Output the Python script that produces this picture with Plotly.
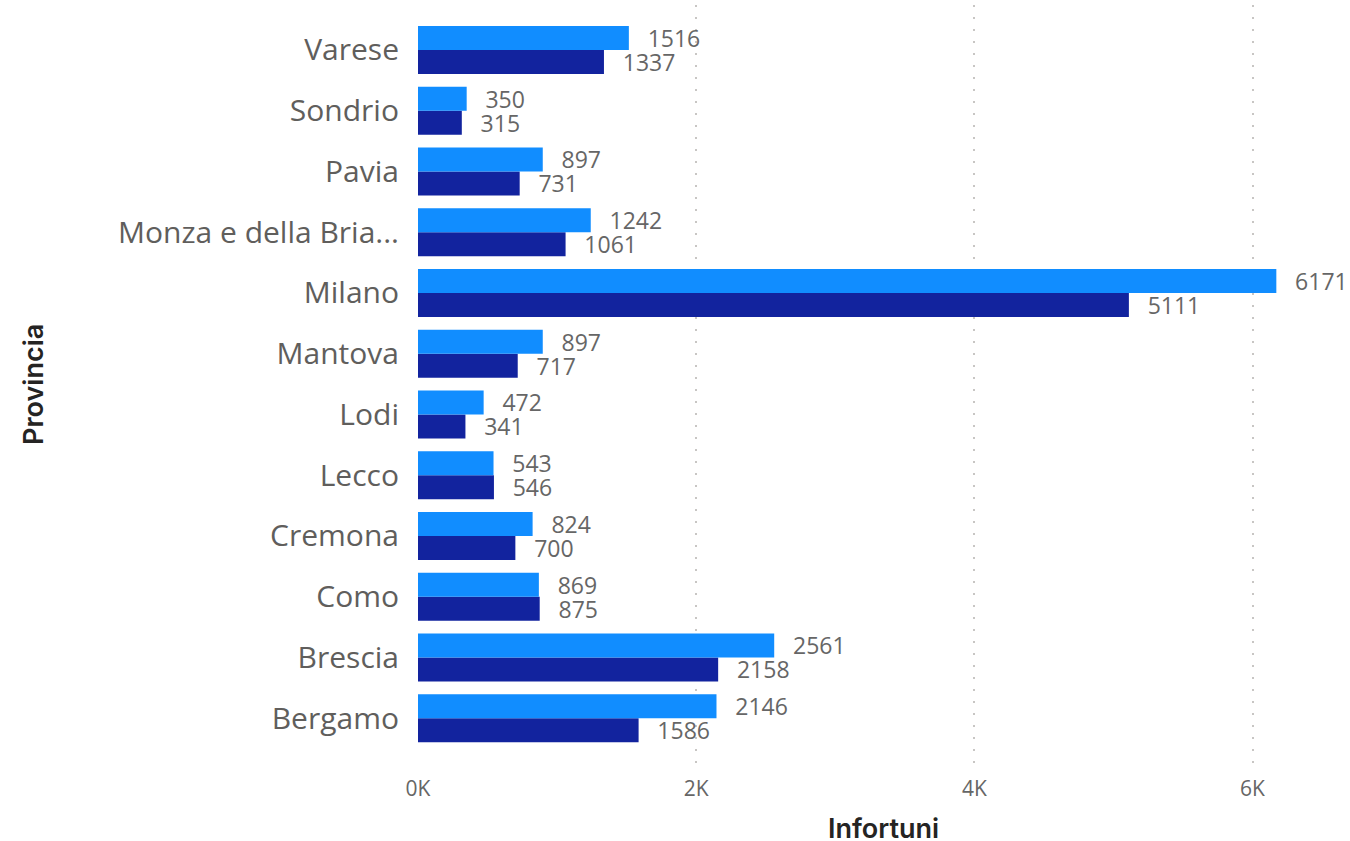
import plotly.graph_objects as go

provinces = ["Bergamo", "Brescia", "Como", "Cremona", "Lecco", "Lodi", "Mantova",
             "Milano", "Monza e della Bria...", "Pavia", "Sondrio", "Varese"]
series_light = [2146, 2561, 869, 824, 543, 472, 897, 6171, 1242, 897, 350, 1516]
series_dark = [1586, 2158, 875, 700, 546, 341, 717, 5111, 1061, 731, 315, 1337]
x_tickvals = [0, 2000, 4000, 6000]
x_ticktext = ["0K", "2K", "4K", "6K"]

BASE = "Segoe UI, Open Sans, sans-serif"
TITLE_FONT = dict(family="Inter, Roboto, DejaVu Sans, sans-serif", size=27,
                  color="#252423", weight=600)
LABEL_FONT = dict(family=BASE, size=23, color="#666666")
PAD = "\u00a0\u00a0\u2009"

fig = go.Figure()
fig.add_trace(go.Bar(
    y=provinces, x=series_dark, orientation="h", name="Serie 2",
    marker=dict(color="#12239E", line=dict(width=0)),
    texttemplate=PAD + "%{x}", textposition="outside", cliponaxis=False,
    constraintext="none", textfont=LABEL_FONT, hoverinfo="x+y",
))
fig.add_trace(go.Bar(
    y=provinces, x=series_light, orientation="h", name="Serie 1",
    marker=dict(color="#118DFF", line=dict(width=0)),
    texttemplate=PAD + "%{x}", textposition="outside", cliponaxis=False,
    constraintext="none", textfont=LABEL_FONT, hoverinfo="x+y",
))

fig.update_layout(
    width=1350, height=841,
    margin=dict(l=418, r=14, t=5, b=76, autoexpand=False),
    paper_bgcolor="white", plot_bgcolor="white",
    barmode="group", bargap=0.21, bargroupgap=0,
    showlegend=False,
    font=dict(family=BASE),
    xaxis=dict(
        range=[0, 6600], tickvals=x_tickvals, ticktext=x_ticktext,
        showgrid=True, gridcolor="#C8C6C4", griddash="2px,10px", gridwidth=2,
        zeroline=False, showline=False,
        ticks="outside", ticklen=5, tickcolor="rgba(0,0,0,0)",
        tickfont=dict(family=BASE, size=21, color="#666666"),
        automargin=False,
    ),
    yaxis=dict(
        categoryorder="array", categoryarray=provinces,
        range=[-0.77, 11.74],
        showgrid=False, zeroline=False, showline=False,
        ticks="outside", ticklen=12, tickcolor="rgba(0,0,0,0)",
        tickfont=dict(family=BASE, size=30, color="#605E5C"),
        automargin=False,
    ),
    annotations=[
        dict(text="Infortuni", xref="paper", yref="paper", x=(883 - 418) / 918, y=0,
             xanchor="center", yanchor="middle", yshift=-63, showarrow=False,
             font=TITLE_FONT),
        dict(text="Provincia", xref="paper", yref="paper", x=0, y=0.5,
             xanchor="center", yanchor="middle", xshift=-(418 - 33), textangle=-90,
             showarrow=False, font=TITLE_FONT),
    ],
)

fig.write_html("out.html", config={"displayModeBar": False},
               post_script="document.body.style.margin='0';")
